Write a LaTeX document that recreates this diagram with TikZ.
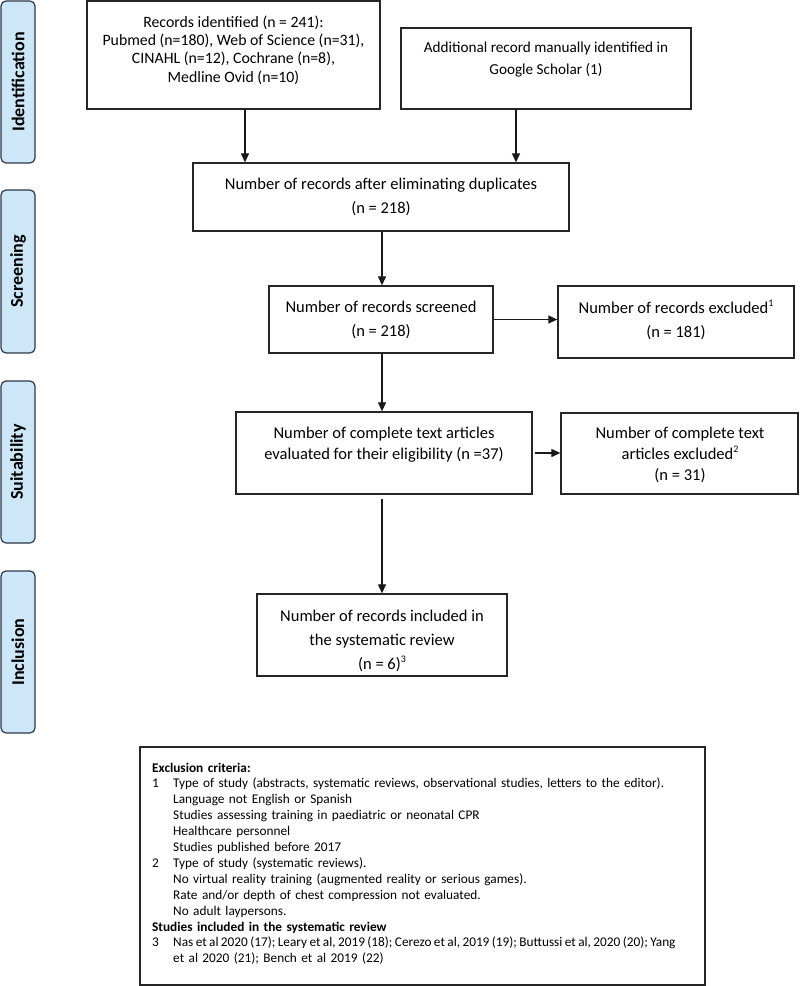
\documentclass[tikz,border=0pt]{standalone}
\usepackage{fontspec}
\setmainfont{Carlito}
\usetikzlibrary{arrows.meta,calc}
\definecolor{sidefill}{RGB}{205,231,249}
\definecolor{sidedraw}{RGB}{45,55,70}
\newcommand{\fnnum}[1]{\makebox[21pt][l]{#1}}
\newcommand{\supnum}[1]{\raisebox{0.45em}{\fontsize{10}{10}\selectfont #1}}
\begin{document}
\begin{tikzpicture}[x=1pt,y=-1pt,
  sidebox/.style={draw=sidedraw,fill=sidefill,line width=1.2pt,rounded corners=5pt,
    rotate=90,minimum width=162pt,minimum height=34pt,inner sep=0pt,
    font=\fontsize{18}{20}\selectfont\bfseries},
  flowbox/.style={draw=black!85,line width=1.3pt,inner sep=0pt},
  boxtext/.style={align=center,inner sep=0pt,font=\fontsize{16.5}{24}\selectfont},
  arr/.style={-{Triangle[length=9pt,width=8pt]},line width=1.2pt,draw=black!90},
]
\useasboundingbox (0,0) rectangle (800,986);

% side labels
\node[sidebox] (s1) at (18,82) {Identification};
\node[sidebox,minimum width=163pt] (s2) at (18,271.5) {Screening};
\node[sidebox] (s3) at (18,462) {Suitability};
\node[sidebox] (s4) at (18,652) {Inclusion};

% boxes
\node[flowbox,minimum width=293pt,minimum height=108pt] (b1) at (233.5,55) {};
\node[flowbox,minimum width=290pt,minimum height=81pt] (b2) at (546,68.5) {};
\node[flowbox,minimum width=376pt,minimum height=68pt] (b3) at (381,197) {};
\node[flowbox,minimum width=224pt,minimum height=67pt] (b4) at (381,319.5) {};
\node[flowbox,minimum width=236pt,minimum height=72pt] (b5) at (676,322) {};
\node[flowbox,minimum width=296pt,minimum height=82pt] (b6) at (384,453) {};
\node[flowbox,minimum width=237pt,minimum height=81pt] (b7) at (679.5,453.5) {};
\node[flowbox,minimum width=250pt,minimum height=82pt] (b8) at (382,635) {};
\node[flowbox,minimum width=565pt,minimum height=238pt] (fn) at (422.5,866) {};

% texts
\node[boxtext,font=\fontsize{15.8}{18.3}\selectfont] (t1) at (233.5,50)
  {Records identified (n = 241):\\Pubmed (n=180), Web of Science (n=31),\\CINAHL (n=12), Cochrane (n=8),\\Medline Ovid (n=10)};
\node[boxtext,font=\fontsize{15.2}{22}\selectfont] (t2) at (546,60)
  {Additional record manually identified in\\Google Scholar (1)};
\node[boxtext] (t3) at (381,197) {Number of records after eliminating duplicates\\(n = 218)};
\node[boxtext] (t4) at (381,320) {Number of records screened\\(n = 218)};
\node[boxtext] (t5) at (676,320) {Number of records excluded\supnum{1}\\(n = 181)};
\node[boxtext,font=\fontsize{16.5}{21}\selectfont] (t6) at (384,445)
  {Number of complete text articles\\evaluated for their eligibility (n =37)};
\node[boxtext,font=\fontsize{16.5}{21}\selectfont] (t7) at (680,455)
  {Number of complete text\\articles excluded\supnum{2}\\(n = 31)};
\node[boxtext] (t8) at (382,641)
  {Number of records included in\\the systematic review\\(n = 6)\supnum{3}};

\node[anchor=base west,inner sep=0pt,text width=620pt,align=left,
  font=\fontsize{13.3}{15.9}\selectfont] (tfn) at (152,772)
  {\textbf{Exclusion criteria:}\\
   \fnnum{1}Type of study (abstracts, systematic reviews, observational studies, letters to the editor).\\
   \fnnum{}Language not English or Spanish\\
   \fnnum{}Studies assessing training in paediatric or neonatal CPR\\
   \fnnum{}Healthcare personnel\\
   \fnnum{}Studies published before 2017\\
   \fnnum{2}Type of study (systematic reviews).\\
   \fnnum{}No virtual reality training (augmented reality or serious games).\\
   \fnnum{}Rate and/or depth of chest compression not evaluated.\\
   \fnnum{}No adult laypersons.\\
   \textbf{Studies included in the systematic review}\\
   \fnnum{3}{\spaceskip=0.18em\relax Nas et al 2020 (17); Leary et al, 2019 (18); Cerezo et al, 2019 (19); Buttussi et al, 2020 (20); Yang}\\
   \fnnum{}et al 2020 (21); Bench et al 2019 (22)};

% connectors
\coordinate (ax1) at (245,0);
\coordinate (ax2) at (516,0);
\coordinate (ax3) at (382,0);
\draw[arr] (ax1 |- b1.south) -- (ax1 |- b3.north);
\draw[arr] (ax2 |- b2.south) -- (ax2 |- b3.north);
\draw[arr] (ax3 |- b3.south) -- (ax3 |- b4.north);
\draw[arr] (b4.east) -- (b4.east -| b5.west);
\draw[arr] (ax3 |- b4.south) -- (ax3 |- b6.north);
\draw[arr,shorten <=2pt] (b6.east) -- (b6.east -| b7.west);
\draw[arr,shorten <=4pt] (ax3 |- b6.south) -- (ax3 |- b8.north);
\end{tikzpicture}
\end{document}
